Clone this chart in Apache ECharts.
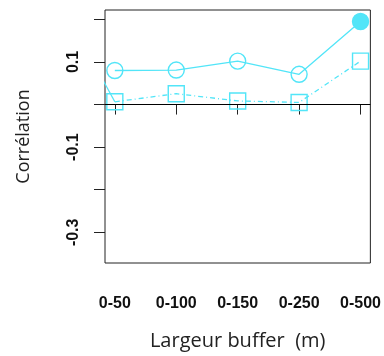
<!DOCTYPE html>
<html>
<head>
<meta charset="utf-8">
<script src="https://cdn.jsdelivr.net/npm/echarts@6/dist/echarts.min.js"></script>
<style>
  html, body { margin: 0; padding: 0; background: #fff; }
  #chart { width: 384px; height: 356px; }
</style>
</head>
<body>
<div id="chart"></div>
<script>
// buffer widths along x
const categories = ["0-50", "0-100", "0-150", "0-250", "0-500"];
// circles, solid line
const circleValues = [0.080, 0.081, 0.102, 0.071, 0.195];
const circleFilled = [false, false, false, false, true];
// squares, dot-dash line
const squareValues = [0.0065, 0.0255, 0.0085, 0.005, 0.102];
// clipped segment entering from the left edge (x = 0 -> x = 1)
const strayX = [0, 1];
const strayValues = [0.27, 0.0065];
// y ticks and which ones get a label
const yTicks = [-0.3, -0.2, -0.1, 0, 0.1, 0.2];
const yTickLabels = [-0.3, -0.1, 0.1];
const xTicks = [1, 2, 3, 4, 5];

const cyan = "#52E5F8";
const axisColor = "#222";

const chart = echarts.init(document.getElementById("chart"), null, { renderer: "canvas" });

const circleData = circleValues.map((v, i) => ({
  value: [i + 1, v],
  itemStyle: circleFilled[i] ? { color: cyan, borderColor: cyan } : undefined
}));
const squareData = squareValues.map((v, i) => [i + 1, v]);
const strayData = strayValues.map((v, i) => [strayX[i], v]);

chart.setOption({
  animation: false,
  grid: {
    left: 105,
    right: 12,
    top: 10,
    bottom: 91,
    show: true,
    borderColor: axisColor,
    borderWidth: 1
  },
  xAxis: {
    type: "value",
    min: 0.84,
    max: 5.16,
    offset: 2,
    splitLine: { show: false },
    axisLine: { show: false },
    axisTick: {
      show: true,
      length: 10,
      customValues: xTicks,
      lineStyle: { color: axisColor }
    },
    axisLabel: {
      customValues: xTicks,
      margin: 31,
      fontFamily: "Liberation Sans",
      fontWeight: "bold",
      fontSize: 16,
      color: "#111",
      formatter: v => categories[Math.round(v) - 1]
    },
    name: "Largeur buffer  (m)",
    nameLocation: "middle",
    nameGap: 66,
    nameTextStyle: { fontFamily: "Open Sans", fontSize: 20, color: "#222" }
  },
  yAxis: {
    type: "value",
    min: -0.372,
    max: 0.222,
    splitLine: { show: false },
    axisLine: { show: false },
    axisTick: {
      show: true,
      length: 11,
      customValues: yTicks,
      lineStyle: { color: axisColor }
    },
    axisLabel: {
      customValues: yTickLabels,
      rotate: 90,
      margin: 23,
      fontFamily: "Liberation Sans",
      fontWeight: "bold",
      fontSize: 16,
      color: "#111",
      formatter: v => v.toFixed(1)
    },
    name: "Corrélation",
    nameLocation: "middle",
    nameGap: 72,
    nameTextStyle: { fontFamily: "Open Sans", fontSize: 18, color: "#222" }
  },
  series: [
    {
      type: "line",
      data: strayData,
      symbol: "none",
      clip: true,
      silent: true,
      lineStyle: { color: cyan, width: 1.3 },
      markLine: {
        silent: true,
        symbol: "none",
        label: { show: false },
        lineStyle: { color: "#000", width: 1, type: "solid" },
        data: [{ yAxis: 0 }]
      }
    },
    {
      type: "line",
      data: circleData,
      symbol: "circle",
      symbolSize: 16,
      itemStyle: { color: "rgba(0,0,0,0)", borderColor: cyan, borderWidth: 1.4 },
      lineStyle: { color: cyan, width: 1.3 }
    },
    {
      type: "line",
      data: squareData,
      symbol: "rect",
      symbolSize: 16,
      itemStyle: { color: "rgba(0,0,0,0)", borderColor: cyan, borderWidth: 1.4 },
      lineStyle: { color: cyan, width: 1.3, type: [5, 3, 1, 3] }
    }
  ]
});
</script>
</body>
</html>
